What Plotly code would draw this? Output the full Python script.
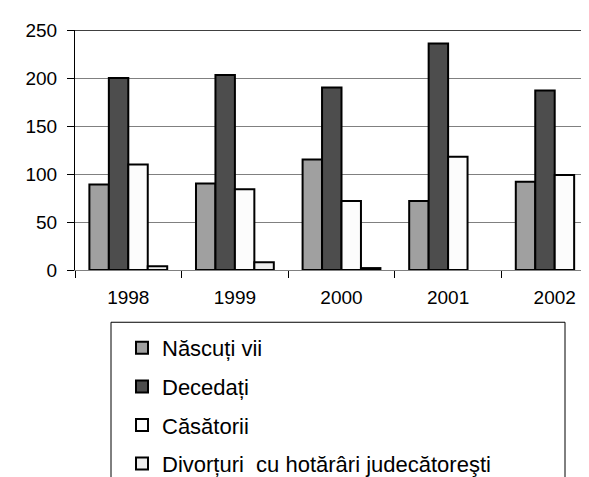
import plotly.graph_objects as go

years = ["1998", "1999", "2000", "2001", "2002"]
nascuti_vii = [89, 90, 115, 72, 92]
decedati = [200, 203, 190, 236, 187]
casatorii = [110, 84, 72, 118, 99]
divorturi = [4, 8, 2, None, None]

series_names = ["Născuți vii", "Decedați", "Căsătorii",
                "Divorțuri\u00a0\u00a0cu hotărâri judecătoreşti"]
series_values = [nascuti_vii, decedati, casatorii, divorturi]
series_colors = ["#a0a0a0", "#4d4d4d", "#fcfcfc", "#eeeeee"]

W, H = 589, 477
ML, MR, MT, MB = 67, 0, 22, 207
pw = W - ML - MR
ph = H - MT - MB

fig = go.Figure()
for i, (name, vals, col) in enumerate(zip(series_names, series_values, series_colors)):
    fig.add_trace(go.Bar(
        x=years, y=vals, name=name, legendgroup=f"g{i}",
        marker=dict(color=col, line=dict(color="black", width=2)),
    ))

FONT = "Liberation Sans, Arial, sans-serif"
cat_px = 106.6
x_end = -0.5 + pw / cat_px

def px_x(p):
    return (p - ML) / pw

def px_y(p):
    return (H - MB - p) / ph

fig.update_layout(
    width=W, height=H,
    margin=dict(l=ML, r=MR, t=MT, b=MB, pad=0),
    paper_bgcolor="white", plot_bgcolor="white",
    barmode="group", bargap=0.27, bargroupgap=0,
    font=dict(family=FONT, color="black", size=19),
    showlegend=True,
    legend=dict(
        x=px_x(114), y=px_y(329), xanchor="left", yanchor="top",
        font=dict(family=FONT, size=22, color="black"),
        traceorder="grouped", tracegroupgap=7,
        bgcolor="rgba(0,0,0,0)", borderwidth=0,
    ),
    xaxis=dict(
        type="category", range=[-0.5, x_end],
        showgrid=False, showline=True, linecolor="#808080", linewidth=1,
        ticks="outside", tickson="boundaries", ticklen=7, tickcolor="black",
        ticklabelstandoff=10,
        tickfont=dict(family=FONT, size=19, color="black"),
        zeroline=False,
    ),
    yaxis=dict(
        range=[0, 250], tickvals=[0, 50, 100, 150, 200, 250],
        showgrid=True, gridcolor="#808080", gridwidth=1,
        showline=True, linecolor="black", linewidth=1,
        ticks="outside", ticklen=7, tickcolor="black",
        ticklabelstandoff=6,
        tickfont=dict(family=FONT, size=19, color="black"),
        zeroline=False,
    ),
    shapes=[
        dict(type="line", xref="paper", yref="y", x0=0, x1=1, y0=250, y1=250,
             line=dict(color="black", width=1.5)),
        dict(type="rect", xref="paper", yref="paper",
             x0=px_x(103), x1=px_x(557), y0=px_y(324), y1=px_y(520),
             line=dict(color="black", width=1), fillcolor="rgba(0,0,0,0)"),
    ],
)

fig.write_html("out.html")
